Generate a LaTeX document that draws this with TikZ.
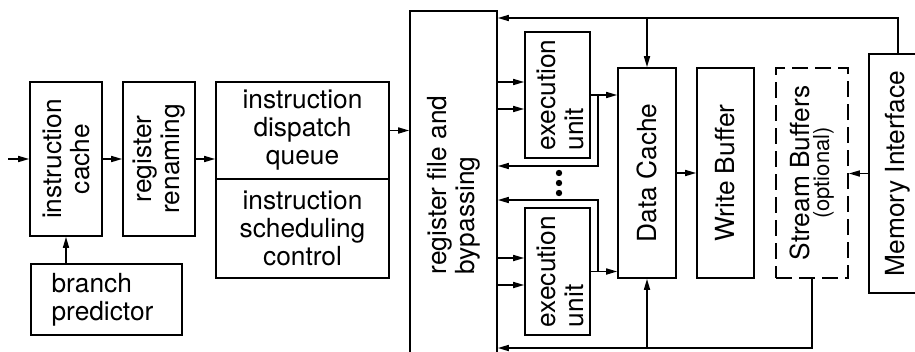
\documentclass[tikz,border=0pt]{standalone}
\usepackage{fontspec}
\setmainfont{TeX Gyre Heros}
\usetikzlibrary{arrows.meta}

\begin{document}
\begin{tikzpicture}[x=1pt,y=-1pt,
  blk/.style={draw,line width=1.6pt,inner sep=0pt},
  txt/.style={font=\fontsize{26.3}{28}\selectfont,align=center,inner sep=0pt},
  vtxt/.style={txt,rotate=90},
  arr/.style={line width=1.6pt,-{Triangle[length=11pt,width=6pt]}}]
  \useasboundingbox (0,0) rectangle (915,351);
  \clip (0,0) rectangle (915,351);
  % front end
  \node[blk,minimum width=72pt,minimum height=154pt,label={[vtxt]center:instruction\\cache}] (icache) at (66,159) {};
  \node[blk,minimum width=72pt,minimum height=154pt,label={[vtxt]center:register\\renaming}] (rename) at (159,159) {};
  \node[blk,minimum width=151pt,minimum height=71pt,label={[txt,align=left,xshift=-4pt]center:branch\\predictor}] (bpred) at (106.5,299.5) {};
  \node[blk,minimum width=173pt,minimum height=97pt,label={[txt]center:instruction\\dispatch\\queue}] (dispatch) at (302.5,130.5) {};
  \node[blk,minimum width=173pt,minimum height=99pt,label={[txt]center:instruction\\scheduling\\control}] (sched) at (302.5,228.5) {};
  % execution core
  \node[blk,minimum width=87pt,minimum height=354pt,label={[vtxt,align=left,xshift=3pt]center:register file and\\bypassing}] (regfile) at (453.5,188) {};
  \node[blk,minimum width=65pt,minimum height=126pt,label={[vtxt,align=left,yshift=-3pt]center:execution\\unit}] (exec1) at (557.5,95) {};
  \node[blk,minimum width=65pt,minimum height=127pt,label={[vtxt,align=left,yshift=-3pt]center:execution\\unit}] (exec2) at (557.5,271.5) {};
  \foreach \y in {173,183,193} \fill (559,\y) circle (3.2pt);
  % memory side
  \node[blk,minimum width=58pt,minimum height=210pt,label={[vtxt]center:Data Cache}] (dcache) at (647,173) {};
  \node[blk,minimum width=57pt,minimum height=210pt,label={[vtxt]center:Write Buffer}] (wbuf) at (725.5,173) {};
  \node[blk,dash pattern=on 16pt off 7pt,minimum width=72pt,minimum height=210pt,
    label={[vtxt]center:\shortstack{Stream Buffers\\\fontsize{22}{22}\selectfont(optional)}}] (sbuf) at (812,173) {};
  \node[blk,minimum width=58pt,minimum height=239pt,label={[vtxt]center:Memory Interface}] (memif) at (898,173.5) {};

  \coordinate (in) at (8,159);
  \draw[arr] (in) -- (icache.west);
  \draw[arr] (icache.east) -- (rename.west);
  \draw[arr] (rename.east) -- (rename.east -| dispatch.west);
  \draw[arr] (bpred.north -| icache.south) -- (icache.south);
  \draw[arr] (dispatch.east) -- (dispatch.east -| regfile.west);
  \foreach \y in {82,109} \draw[arr] (regfile.east |- 0,\y) -- (exec1.west |- 0,\y);
  \foreach \y in {258,285} \draw[arr] (regfile.east |- 0,\y) -- (exec2.west |- 0,\y);
  % results back to the register file
  \coordinate (j1) at ([xshift=7pt]exec1.east);
  \coordinate (j2) at ([xshift=7pt]exec2.east);
  \draw[arr] (exec1.east) -- (exec1.east -| dcache.west);
  \draw[arr] (j1) |- (regfile.east |- 0,166);
  \draw[arr] (exec2.east) -- (exec2.east -| dcache.west);
  \draw[arr] (j2) |- (regfile.east |- 0,200);
  \draw[arr] (dcache.east) -- (wbuf.west);
  \draw[arr] (memif.west) -- (memif.west -| sbuf.east);
  % fill paths
  \draw[arr] (memif.north) |- (regfile.east |- 0,18);
  \draw[arr] (dcache.north |- 0,18) -- (dcache.north);
  \draw[arr] (sbuf.south) |- (regfile.east |- 0,348);
  \draw[arr] (dcache.south |- 0,348) -- (dcache.south);
\end{tikzpicture}
\end{document}
